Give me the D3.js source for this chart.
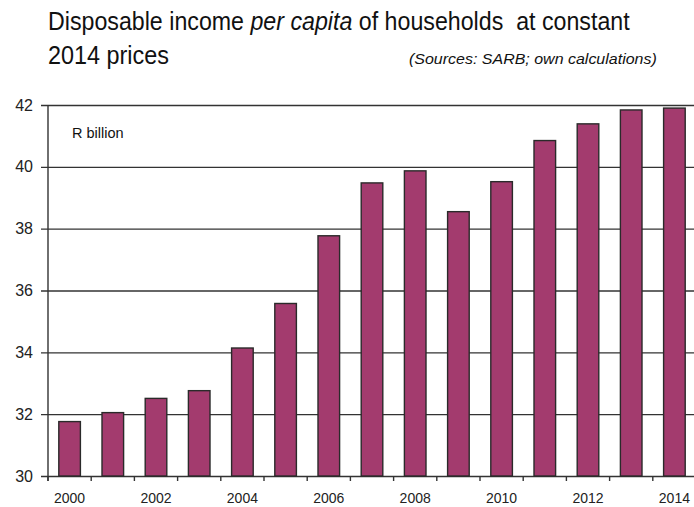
<!DOCTYPE html>
<html>
<head>
<meta charset="utf-8">
<script src="https://cdn.jsdelivr.net/npm/d3@7"></script>
<style>
  html, body { margin: 0; padding: 0; background: #fff; }
  svg { display: block; }
</style>
</head>
<body>
<svg id="chart" width="694" height="507"></svg>
<script>
// Disposable income per capita of households, constant 2014 prices (R billion)
const years = [2000, 2001, 2002, 2003, 2004, 2005, 2006, 2007, 2008, 2009, 2010, 2011, 2012, 2013, 2014];
const income = [31.76, 32.05, 32.51, 32.76, 34.14, 35.58, 37.77, 39.48, 39.87, 38.55, 39.52, 40.85, 41.39, 41.84, 41.90];
const yTicks = [30, 32, 34, 36, 38, 40, 42];
const xLabelYears = [2000, 2002, 2004, 2006, 2008, 2010, 2012, 2014];

const svg = d3.select("#chart");
const margin = { left: 48, top: 105, right: -2, bottom: 31 };
const W = 694, H = 507;

const x = d3.scaleBand()
  .domain(years)
  .range([margin.left, W - margin.right])
  .paddingInner(0.5)
  .paddingOuter(0.25);

const y = d3.scaleLinear()
  .domain([30, 42])
  .range([H - margin.bottom, margin.top]);

const font = "Arial, 'Liberation Sans', sans-serif";

// Draws a text at (x0, y0) and squeezes it horizontally to a given width
function condensed(x0, y0, width, build) {
  const g = svg.append("g");
  const t = g.append("text")
    .attr("font-family", font)
    .attr("fill", "#111");
  build(t);
  const w = t.node().getComputedTextLength();
  g.attr("transform", `translate(${x0},${y0}) scale(${width / w},1)`);
  return t;
}

// Title
condensed(48, 30, 582, t => {
  t.attr("font-size", 25);
  t.append("tspan").text("Disposable income ");
  t.append("tspan").attr("font-style", "italic").text("per capita");
  t.append("tspan").text(" of households\u00a0 at constant");
});

condensed(48, 64, 121, t => {
  t.attr("font-size", 25).text("2014 prices");
});

condensed(409, 64, 248, t => {
  t.attr("font-size", 14)
    .attr("font-style", "italic")
    .text("(Sources: SARB; own calculations)");
});

// Horizontal gridlines with left tick marks
const yAxis = d3.axisLeft(y)
  .tickValues(yTicks)
  .tickSize(-(W - margin.left + 10))
  .tickPadding(15)
  .tickFormat(d3.format("d"));

const gy = svg.append("g")
  .attr("transform", `translate(${margin.left},0)`)
  .call(yAxis);
gy.select(".domain").remove();
gy.selectAll(".tick line")
  .attr("x1", -7)
  .attr("stroke", "#333")
  .attr("stroke-width", 1.4);
gy.selectAll(".tick text")
  .attr("font-family", font)
  .attr("font-size", 16)
  .attr("fill", "#222");

// Bars
svg.append("g")
  .selectAll("rect")
  .data(years.map((yr, i) => ({ yr, v: income[i] })))
  .join("rect")
  .attr("x", d => x(d.yr))
  .attr("y", d => y(d.v))
  .attr("width", x.bandwidth())
  .attr("height", d => y(30) - y(d.v))
  .attr("fill", "#A33B6E")
  .attr("stroke", "#2a2a2a")
  .attr("stroke-width", 1.4);

// Vertical axis line
svg.append("line")
  .attr("x1", margin.left).attr("x2", margin.left)
  .attr("y1", y(42)).attr("y2", y(30) + 5)
  .attr("stroke", "#333")
  .attr("stroke-width", 1.4);

// Category boundary ticks along the baseline
const step = x.step();
const bounds = d3.range(years.length + 1).map(i => margin.left + i * step);
svg.append("g")
  .selectAll("line")
  .data(bounds)
  .join("line")
  .attr("x1", d => d).attr("x2", d => d)
  .attr("y1", y(30)).attr("y2", y(30) + 5)
  .attr("stroke", "#333")
  .attr("stroke-width", 1.4);

// Year labels
svg.append("g")
  .selectAll("text")
  .data(xLabelYears)
  .join("text")
  .attr("x", d => x(d) + x.bandwidth() / 2)
  .attr("y", 503)
  .attr("text-anchor", "middle")
  .attr("font-family", font)
  .attr("font-size", 14)
  .attr("fill", "#222")
  .text(d => d);

// Unit label
svg.append("text")
  .attr("x", 72).attr("y", 138)
  .attr("font-family", font)
  .attr("font-size", 14.5)
  .attr("fill", "#111")
  .text("R billion");
</script>
</body>
</html>
